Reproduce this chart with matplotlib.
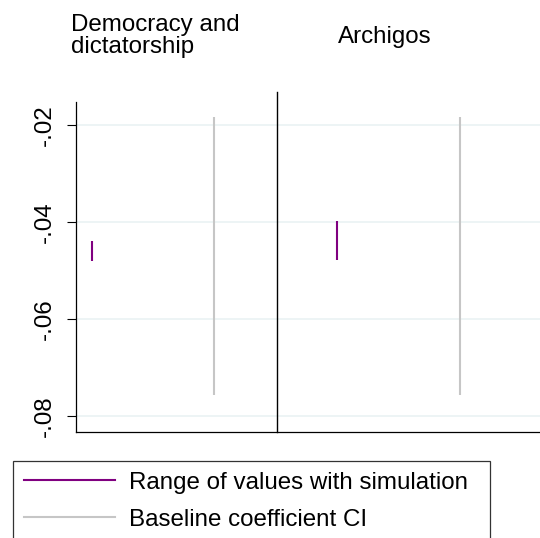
import matplotlib
matplotlib.use("Agg")
import matplotlib.pyplot as plt
from matplotlib.lines import Line2D

plt.rcParams['font.family'] = ['Liberation Sans', 'DejaVu Sans']

categories = ["Democracy and\ndictatorship", "Archigos"]
sim_x = [1, 3]
sim_low = [-0.0480, -0.0478]
sim_high = [-0.0439, -0.0398]
ci_x = [2, 4]
ci_low = [-0.0757, -0.0757]
ci_high = [-0.0184, -0.0184]
yticks = [-0.08, -0.06, -0.04, -0.02]
ytick_labels = ["-.08", "-.06", "-.04", "-.02"]

purple = "#800080"
gray = "#c6c6c6"
FS = 17.4

fig = plt.figure(figsize=(5.40, 5.38), dpi=100)
ax = fig.add_axes([76/540, 1-432/538, 1-76/540 + 0.01, (432-102)/538])

ax.set_ylim(-0.0833, -0.01526)
ax.set_xlim(0.873, 4.70)

for y in yticks:
    ax.axhline(y, color="#eaf2f3", lw=1.2, zorder=0)

ax.vlines(sim_x, sim_low, sim_high, color=purple, lw=1.5, zorder=3)
ax.vlines(ci_x, ci_low, ci_high, color=gray, lw=1.5, zorder=2)

# panel divider
ax.plot([2.51, 2.51], [-0.0833, -0.0132], color="black", lw=1.0, clip_on=False, zorder=4)

ax.set_yticks(yticks)
ax.set_yticklabels(ytick_labels, rotation=90, va="center", fontsize=FS)
ax.tick_params(axis="y", length=6.5, width=0.8, pad=8)
ax.set_xticks([])
for s in ["top", "right"]:
    ax.spines[s].set_visible(False)
for s in ["left", "bottom"]:
    ax.spines[s].set_linewidth(0.9)

fig.text(71/540, 1-36/538, categories[0], ha="left", va="center", fontsize=FS, linespacing=0.95)
fig.text(385/540, 1-37/538, categories[1], ha="center", va="center", fontsize=FS)

handles = [Line2D([], [], color=purple, lw=1.5), Line2D([], [], color=gray, lw=1.5)]
leg = fig.legend(handles, ["Range of values with simulation", "Baseline coefficient CI"],
                 loc="upper left", bbox_to_anchor=(13/540, 1-460.7/538 - 0.2, 477/540, 0.2),
                 mode="expand",
                 fontsize=FS, frameon=True, fancybox=False, edgecolor="black",
                 handlelength=3.75, handletextpad=0.6, labelspacing=0.62,
                 borderpad=0.45, borderaxespad=0)
leg.get_frame().set_linewidth(0.9)

fig.savefig("out.png", dpi=100)
